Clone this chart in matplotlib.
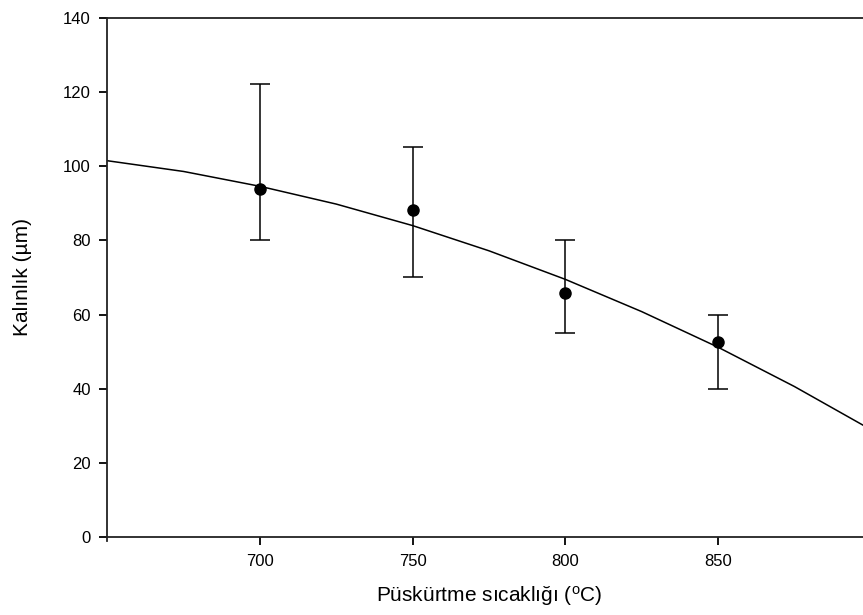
import matplotlib
matplotlib.use('Agg')
import matplotlib.pyplot as plt

plt.rcParams['font.family'] = ['Liberation Sans', 'DejaVu Sans']

# measured points (mean with min/max error limits)
temp = [700, 750, 800, 850]
thick = [93.8, 88.1, 65.8, 52.5]
err_low = [80.0, 70.1, 55.0, 40.0]
err_high = [122.1, 105.1, 80.0, 60.0]

# fitted curve, every 25 degrees
fit_x = [650, 675, 700, 725, 750, 775, 800, 825, 850, 875, 900]
fit_y = [101.5, 98.6, 94.6, 89.8, 84.0, 77.2, 69.5, 60.8, 51.2, 40.6, 29.0]

xticks = [700, 750, 800, 850]
yticks = [0, 20, 40, 60, 80, 100, 120, 140]

fig = plt.figure(figsize=(8.63, 6.15), dpi=100)
ax = fig.add_axes([107.3/863, 78/615, (870.7-107.3)/863, (537-18)/615])

lower = [t - l for t, l in zip(thick, err_low)]
upper = [h - t for t, h in zip(thick, err_high)]
ax.errorbar(temp, thick, yerr=[lower, upper], fmt='o', color='black',
            ms=8, elinewidth=1.1, capsize=7.5, capthick=1.1, zorder=3)
ax.plot(fit_x, fit_y, color='black', lw=1.1, zorder=2)

ax.set_xlim(650, 900)
ax.set_ylim(0, 140)
ax.set_xticks(xticks)
ax.set_yticks(yticks)
for s in ax.spines.values():
    s.set_linewidth(1.3)
    s.set_color('#222222')
ax.spines['left'].set_bounds(-1.2, 140)
ax.tick_params(direction='out', length=6, width=1.3, labelsize=12, pad=6)

ax.set_xlabel('Püskürtme sıcaklığı ($\\mathregular{^{o}}$C)', fontsize=15, labelpad=11)
ax.set_ylabel('Kalınlık (µm)', fontsize=15, labelpad=22)

fig.savefig('out.png', dpi=100)
